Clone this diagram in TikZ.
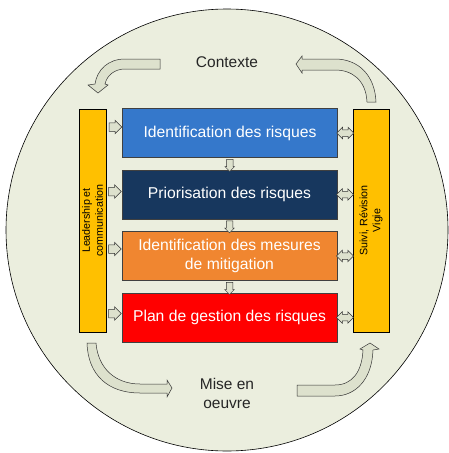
\documentclass[tikz,border=0pt]{standalone}
\usepackage{fontspec}
\setmainfont{Liberation Sans}
\usetikzlibrary{shapes.arrows,calc}

\definecolor{circfill}{RGB}{235,238,222}
\definecolor{arrfill}{RGB}{221,225,205}
\definecolor{idblue}{RGB}{53,120,203}
\definecolor{prionavy}{RGB}{23,55,94}
\definecolor{mesorange}{RGB}{240,134,48}
\definecolor{planred}{RGB}{255,0,0}
\definecolor{baryellow}{RGB}{255,192,0}

\tikzset{
  stepbox/.style={draw=black!75, line width=0.6pt, minimum width=215pt, minimum height=49pt,
    inner sep=0pt, text=white, align=center, font=\fontsize{15.7}{19}\selectfont},
  sidebar/.style={draw=black, line width=0.6pt, fill=baryellow, rotate=90, minimum width=223pt,
    inner sep=0pt, align=center, font=\fontsize{10.7}{13}\selectfont},
  blockarrow/.style={draw=black!80, line width=0.5pt, fill=arrfill},
  rarrow/.style={blockarrow, single arrow, inner sep=4pt, minimum height=12pt,
    single arrow head extend=2.5pt},
  darrow/.style={blockarrow, single arrow, shape border rotate=270, inner sep=3pt,
    minimum height=12pt, single arrow head extend=1.5pt},
  lrarrow/.style={blockarrow, double arrow, inner sep=3pt, minimum height=17pt,
    double arrow head extend=2.5pt},
  label/.style={font=\fontsize{15.5}{19}\selectfont, text=black!85, align=center}
}

\begin{document}
\begin{tikzpicture}[x=1pt,y=-1pt]
  \useasboundingbox (0,0) rectangle (448,453);
  \draw[fill=circfill, line width=0.6pt] (227,230) circle[radius=221];

  \node[stepbox, fill=idblue] (ident) at (230,133) {Identification des risques};
  \node[stepbox, fill=prionavy] (prio) at (229.5,194.5) {Priorisation des risques};
  \node[stepbox, fill=mesorange] (mesures) at (229.5,256) {Identification des mesures\\de mitigation};
  \node[stepbox, fill=planred] (plan) at (229.5,317.5) {Plan de gestion des risques};

  \node[sidebar, minimum height=27pt] (lead) at (92.5,220.5) {Leadership et\\communication};
  \node[sidebar, minimum height=36pt] (suivi) at (371,220.5) {Suivi, Révision\\Vigie};

  \node[label, anchor=base] (contexte) at (227,67) {Contexte};
  \node[label] (miseoeuvre) at (227,393) {Mise en\\oeuvre};

  \foreach \a/\b in {ident/prio,prio/mesures,mesures/plan}
    \node[darrow] (down-\a) at ($(\a.south)!0.5!(\b.north)$) {};
  \foreach \b/\s in {ident/6,prio/3,mesures/7,plan/4}
    \node[rarrow, anchor=tip] (in-\b) at ([yshift=\s pt]\b.west) {};
  \foreach \b in {ident,prio,mesures,plan}
    \node[lrarrow] (both-\b) at ($(\b.east)!0.5!(suivi.north |- \b.east)$) {};

  \draw[blockarrow] (160,59) -- (125,59) .. controls (108,59) and (97,70) .. (95,84)
    -- (88,85) -- (98,93) -- (108,85) -- (105,84) .. controls (107,75) and (115,69) .. (125,69)
    -- (160,69) -- cycle;
  \draw[blockarrow] (296,64) -- (302,56) -- (302,59) -- (335,59) .. controls (358,59) and (375,75) .. (376,102)
    -- (367,102) .. controls (366,80) and (352,70) .. (335,70) -- (302,70) -- (302,73) -- cycle;
  \draw[blockarrow] (87,343) -- (96,343) .. controls (98,368) and (115,384) .. (140,384)
    -- (167,384) -- (167,380) -- (172,388) -- (167,397) -- (167,393) -- (140,393)
    .. controls (108,393) and (88,375) .. (87,343) -- cycle;
  \draw[blockarrow] (297,385) -- (335,385) .. controls (352,385) and (362,372) .. (363,350)
    -- (360,349) -- (370,343) -- (379,349) -- (373,350) .. controls (372,380) and (355,396) .. (335,396)
    -- (297,396) -- cycle;
\end{tikzpicture}
\end{document}
